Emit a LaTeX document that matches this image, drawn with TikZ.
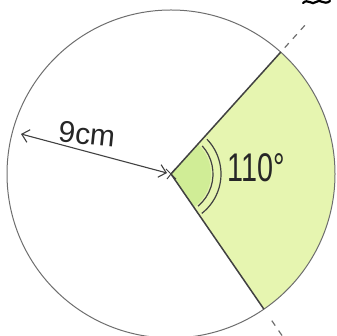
\documentclass[tikz,border=0pt]{standalone}
\usepackage{fontspec}
\setmainfont{Liberation Sans}
\usetikzlibrary{arrows.meta,calc}
\definecolor{sectorgreen}{RGB}{230,245,176}
\definecolor{innergreen}{RGB}{208,237,150}
\definecolor{pencil}{RGB}{110,110,110}
\definecolor{pencildark}{RGB}{65,65,65}
\tikzset{
  rim/.style={draw=pencil, line width=1pt},
  radius line/.style={draw=pencildark, line width=1.5pt},
  ext/.style={draw=pencil, line width=1.2pt, dash pattern=on 6pt off 6pt},
  anglearc/.style={draw=pencildark, line width=1.2pt},
  dimarrow/.style={draw=pencildark, line width=1.1pt, {Straight Barb[length=7pt,width=13pt]}-{Straight Barb[length=7pt,width=13pt]}},
  hand/.style={text=black!85, inner sep=0pt}
}
\begin{document}
\begin{tikzpicture}[x=1pt,y=1pt]
\useasboundingbox (0,0) rectangle (336,336);
\clip (0,0) rectangle (336,336);
\coordinate (O) at (171,162);
\coordinate (A) at ($(O)+(48:164)$);
\coordinate (B) at ($(O)+(-55.5:164)$);
\coordinate (A1) at ($(O)+(48:170)$);
\coordinate (A2) at ($(O)+(48:206)$);
\coordinate (B1) at ($(O)+(-55.5:178)$);
\coordinate (B2) at ($(O)+(-55.5:210)$);
\coordinate (L) at (21,202);
% sector fill
\fill[sectorgreen] (O) -- (A) arc[start angle=48, end angle=-55.5, radius=164] -- cycle;
\fill[innergreen] (O) -- ($(O)+(48:40)$) arc[start angle=48, end angle=-55.5, radius=40] -- cycle;
% circle
\draw[rim] (O) circle[radius=164];
% radii
\draw[radius line] (O) -- (A);
\draw[radius line] (O) -- (B);
% dashed extensions
\draw[ext] (A1) -- (A2);
\draw[ext] (B1) -- (B2);
% angle arcs
\draw[anglearc] ($(O)+(42:42)$) arc[start angle=42, end angle=-50, radius=42];
\draw[anglearc] ($(O)+(44:50)$) arc[start angle=44, end angle=-52, radius=50];
% dimension arrow
\draw[dimarrow] (L) -- ($(O)+(-4,1)$);
% centre cross
\draw[pencildark, line width=1pt] ($(O)+(-5,5)$) -- ($(O)+(5,-5)$);
\draw[pencildark, line width=1pt] ($(O)+(-4,-5)$) -- ($(O)+(4,5)$);
% labels
\node[hand, rotate=-6] (r) at (87,202) {\fontsize{30}{30}\selectfont 9cm};
\node[hand] (ang) at (256,168) {\fontsize{40}{40}\selectfont \scalebox{0.72}[1]{110\textdegree}};
% cropped scribble top right
\draw[black, line width=2.2pt, line cap=round] (303,333) .. controls (308,338) and (312,330) .. (316,334) .. controls (320,338) and (324,330) .. (330,335);
\end{tikzpicture}
\end{document}
